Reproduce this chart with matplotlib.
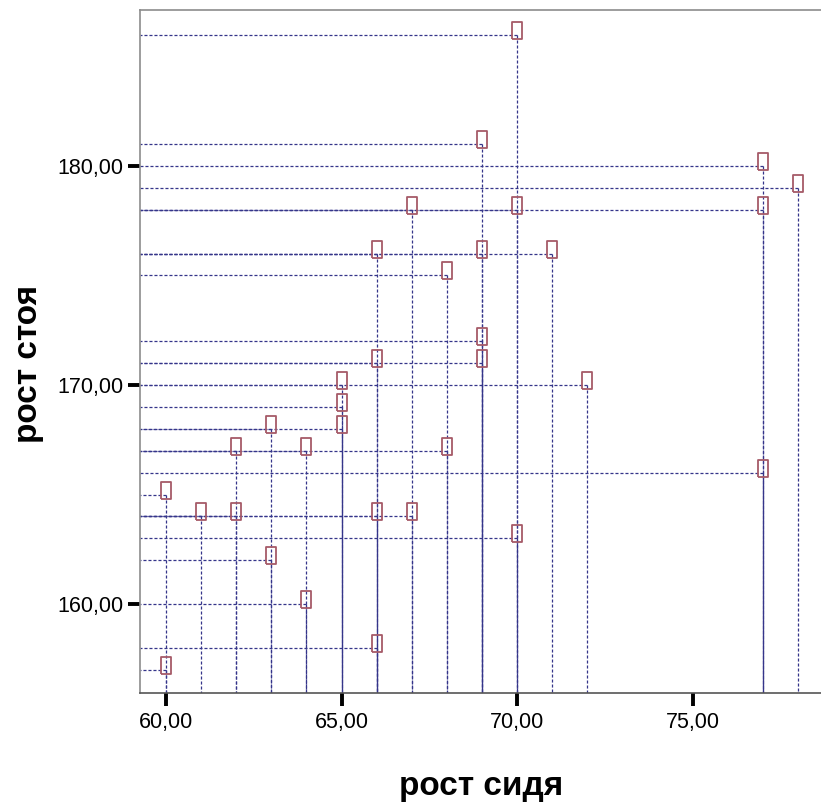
import numpy as np
import matplotlib
matplotlib.use('Agg')
import matplotlib.pyplot as plt
from matplotlib.ticker import FuncFormatter

plt.rcParams['font.family'] = ['Liberation Sans', 'DejaVu Sans']
plt.rcParams['lines.scale_dashes'] = False

# рост сидя / рост стоя
sit = [70, 69, 77, 78, 67, 70, 77, 66, 69, 71, 68, 69, 66, 69, 65, 72,
       65, 63, 65, 62, 64, 68, 77, 60, 61, 62, 66, 67, 70, 63, 64, 66, 60]
stand = [186, 181, 180, 179, 178, 178, 178, 176, 176, 176, 175, 172, 171, 171, 170, 170,
         169, 168, 168, 167, 167, 167, 166, 165, 164, 164, 164, 164, 163, 162, 160, 158, 157]

x_ticks = [60, 65, 70, 75]
y_ticks = [160, 170, 180]

xmin, xmax = 59.26, 78.65
ymin, ymax = 155.94, 187.12

fig = plt.figure(figsize=(8.21, 8.02), dpi=100)
ax = fig.add_axes([140/821, 1 - 693/802, 681/821, 683/802])

line_col = '#35358a'
for x, y in zip(sit, stand):
    # линии проведены от точки к осям
    ax.plot([x, xmin], [y, y], color=line_col, lw=0.9, dashes=(2.2, 1.4), zorder=2)
    ax.plot([x, x], [y, ymin], color=line_col, lw=0.9, dashes=(2.2, 1.4), zorder=2)

# прямоугольный маркер, чуть смещён вверх
box = [(-0.53, -0.5), (0.53, -0.5), (0.53, 1.5), (-0.53, 1.5), (-0.53, -0.5)]
ax.plot(sit, stand, linestyle='none', marker=box, markersize=18.4,
        markerfacecolor='none', markeredgecolor='#a65a68', markeredgewidth=1.3, zorder=3)

ax.set_xlim(xmin, xmax)
ax.set_ylim(ymin, ymax)
ax.set_xticks(x_ticks)
ax.set_yticks(y_ticks)
fmt = FuncFormatter(lambda v, p: f'{v:.2f}'.replace('.', ','))
ax.xaxis.set_major_formatter(fmt)
ax.yaxis.set_major_formatter(fmt)
ax.tick_params(length=9, width=2.8, color='black', labelsize=15.5, direction='out')
ax.tick_params(axis='x', pad=5)
ax.tick_params(axis='y', pad=3)

ax.spines['right'].set_visible(False)
for s in ['left', 'top']:
    ax.spines[s].set_color('#8c8c8c')
    ax.spines[s].set_linewidth(1.2)
ax.spines['bottom'].set_color('#555555')
ax.spines['bottom'].set_linewidth(1.2)

fig.text(481/821, 1 - 786/802, 'рост сидя', ha='center', va='center',
         fontsize=24, fontweight='bold')
fig.text(29/821, 1 - 364/802, 'рост стоя', ha='center', va='center',
         fontsize=24, fontweight='bold', rotation=90)

fig.savefig('out.png', dpi=100)
